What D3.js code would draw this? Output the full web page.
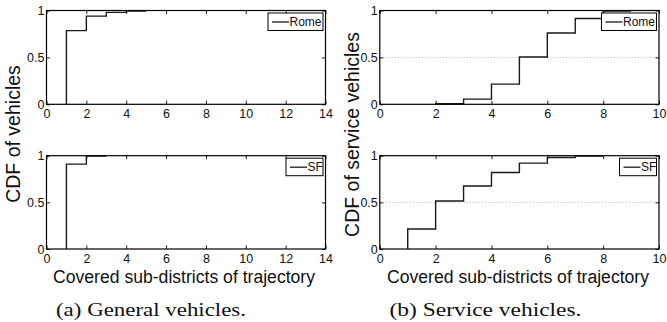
<!DOCTYPE html>
<html>
<head>
<meta charset="utf-8">
<script src="https://cdn.jsdelivr.net/npm/d3@7"></script>
<style>
  body { margin: 0; background: #fff; }
  svg { display: block; font-family: "Liberation Sans", Arial, Helvetica, sans-serif; }
</style>
</head>
<body>
<svg width="667" height="322"></svg>
<script>
// tick values
const yTicks = [0, 0.5, 1];
const yTickLabels = ["0", "0.5", "1"];
const xTicksGeneral = [0, 2, 4, 6, 8, 10, 12, 14];
const xTicksService = [0, 2, 4, 6, 8, 10];

// general vehicles, cdf after each step
const genRomeX = [1, 2, 3, 4];
const genRomeY = [0.785, 0.94, 0.98, 0.995];
const genRomeEnd = 5;
const genSfX = [1, 2];
const genSfY = [0.91, 0.995];
const genSfEnd = 3;

// service vehicles
const svcRomeX = [2, 3, 4, 5, 6, 7, 8];
const svcRomeY = [0.006, 0.055, 0.215, 0.505, 0.76, 0.915, 0.995];
const svcRomeEnd = 9;
const svcSfX = [1, 2, 3, 4, 5, 6, 7];
const svcSfY = [0.215, 0.515, 0.675, 0.82, 0.92, 0.98, 0.997];
const svcSfEnd = 8;

const svg = d3.select("svg");

const drawPanel = (p) => {
  const x = d3.scaleLinear().domain([0, p.xMax]).range([p.left, p.right]);
  const y = d3.scaleLinear().domain([0, 1]).range([p.bottom, p.top]);
  const g = svg.append("g");

  // dotted grid at 0.5
  if (p.grid) {
    g.append("line")
      .attr("x1", p.left).attr("x2", p.right)
      .attr("y1", y(0.5)).attr("y2", y(0.5))
      .attr("stroke", "#999")
      .attr("stroke-width", 0.8)
      .attr("stroke-dasharray", "1,2");
  }

  // axes, ticks pointing inward on all four sides
  const tl = 3.5;
  g.append("g").attr("transform", `translate(0,${p.bottom})`)
    .call(d3.axisBottom(x).tickValues(p.xTicks).tickSizeInner(-tl).tickSizeOuter(0).tickPadding(5))
    .call((a) => a.select(".domain").remove());
  g.append("g").attr("transform", `translate(0,${p.top})`)
    .call(d3.axisTop(x).tickValues(p.xTicks).tickSizeInner(-tl).tickSizeOuter(0).tickFormat(""))
    .call((a) => a.select(".domain").remove());
  g.append("g").attr("transform", `translate(${p.left},0)`)
    .call(d3.axisLeft(y).tickValues(yTicks).tickSizeInner(-tl).tickSizeOuter(0).tickPadding(2)
      .tickFormat((d, i) => yTickLabels[i]))
    .call((a) => a.select(".domain").remove());
  g.append("g").attr("transform", `translate(${p.right},0)`)
    .call(d3.axisRight(y).tickValues(yTicks).tickSizeInner(-tl).tickSizeOuter(0).tickFormat(""))
    .call((a) => a.select(".domain").remove());

  g.selectAll(".tick line").attr("stroke", "#000").attr("stroke-width", 0.9);
  g.selectAll(".tick text")
    .attr("fill", "#111")
    .style("font-family", "'Liberation Sans', Arial, sans-serif")
    .style("font-size", "12.5px");

  // step line
  const pts = [[p.xs[0], 0]]
    .concat(p.xs.map((v, i) => [v, p.ys[i]]))
    .concat([[p.end, p.ys[p.ys.length - 1]]]);
  const line = d3.line()
    .x((d) => x(d[0]))
    .y((d) => y(d[1]))
    .curve(d3.curveStepAfter);
  g.append("path")
    .attr("d", line(pts))
    .attr("fill", "none")
    .attr("stroke", "#1a1a1a")
    .attr("stroke-width", 1.4);

  // frame
  g.append("rect")
    .attr("x", p.left).attr("y", p.top)
    .attr("width", p.right - p.left).attr("height", p.bottom - p.top)
    .attr("fill", "none")
    .attr("stroke", "#000")
    .attr("stroke-width", 1.2);

  // legend
  const lw = p.name === "Rome" ? 55 : 37;
  const lx = p.right - 2.5 - lw;
  const ly = p.top + 2.5;
  const leg = g.append("g").attr("transform", `translate(${lx},${ly})`);
  leg.append("rect")
    .attr("width", lw).attr("height", 17.5)
    .attr("fill", "#fff")
    .attr("stroke", "#000")
    .attr("stroke-width", 1);
  leg.append("line")
    .attr("x1", 4).attr("x2", 21)
    .attr("y1", 9).attr("y2", 9)
    .attr("stroke", "#1a1a1a")
    .attr("stroke-width", 1.3);
  leg.append("text")
    .attr("x", 21.5).attr("y", 13.2)
    .style("font-size", "12px")
    .attr("fill", "#111")
    .text(p.name);
};

const leftX = [46.5, 325.5];
const rightX = [379.8, 659];
const topY = [10.5, 104.3];
const botY = [155.7, 249];

drawPanel({ left: leftX[0], right: leftX[1], top: topY[0], bottom: topY[1], xMax: 14, xTicks: xTicksGeneral,
  xs: genRomeX, ys: genRomeY, end: genRomeEnd, name: "Rome", grid: false });
drawPanel({ left: leftX[0], right: leftX[1], top: botY[0], bottom: botY[1], xMax: 14, xTicks: xTicksGeneral,
  xs: genSfX, ys: genSfY, end: genSfEnd, name: "SF", grid: false });
drawPanel({ left: rightX[0], right: rightX[1], top: topY[0], bottom: topY[1], xMax: 10, xTicks: xTicksService,
  xs: svcRomeX, ys: svcRomeY, end: svcRomeEnd, name: "Rome", grid: true });
drawPanel({ left: rightX[0], right: rightX[1], top: botY[0], bottom: botY[1], xMax: 10, xTicks: xTicksService,
  xs: svcSfX, ys: svcSfY, end: svcSfEnd, name: "SF", grid: true });

// axis titles
svg.append("text")
  .attr("transform", "translate(19.5,134) rotate(-90)")
  .attr("text-anchor", "middle")
  .style("font-size", "19.5px")
  .attr("fill", "#111")
  .text("CDF of vehicles");
svg.append("text")
  .attr("transform", "translate(358.5,134.5) rotate(-90)")
  .attr("text-anchor", "middle")
  .style("font-size", "19.5px")
  .attr("fill", "#111")
  .text("CDF of service vehicles");

svg.append("text")
  .attr("x", 184).attr("y", 283)
  .attr("text-anchor", "middle")
  .attr("textLength", 262).attr("lengthAdjust", "spacingAndGlyphs")
  .style("font-size", "18px")
  .attr("fill", "#111")
  .text("Covered sub-districts of trajectory");
svg.append("text")
  .attr("x", 518).attr("y", 283)
  .attr("text-anchor", "middle")
  .attr("textLength", 262).attr("lengthAdjust", "spacingAndGlyphs")
  .style("font-size", "18px")
  .attr("fill", "#111")
  .text("Covered sub-districts of trajectory");

// captions
svg.append("text")
  .attr("x", 151).attr("y", 316)
  .attr("text-anchor", "middle")
  .attr("textLength", 190).attr("lengthAdjust", "spacingAndGlyphs")
  .style("font-family", "'Liberation Serif', 'Times New Roman', serif")
  .style("font-size", "19px")
  .attr("fill", "#111")
  .text("(a)  General vehicles.");
svg.append("text")
  .attr("x", 485.5).attr("y", 316)
  .attr("text-anchor", "middle")
  .attr("textLength", 192).attr("lengthAdjust", "spacingAndGlyphs")
  .style("font-family", "'Liberation Serif', 'Times New Roman', serif")
  .style("font-size", "19px")
  .attr("fill", "#111")
  .text("(b)  Service vehicles.");
</script>
</body>
</html>
